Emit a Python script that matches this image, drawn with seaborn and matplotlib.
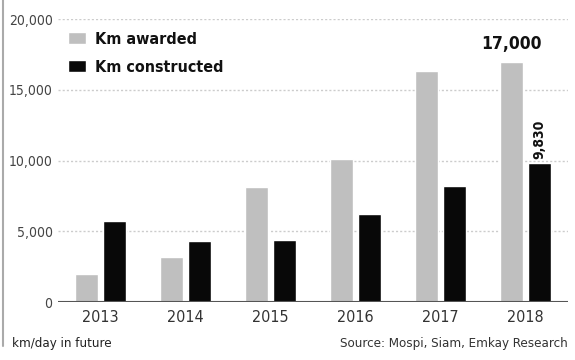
import pandas as pd
import numpy as np
import matplotlib
matplotlib.use("Agg")
import matplotlib.pyplot as plt
import seaborn as sns

# data
years = ['2013', '2014', '2015', '2016', '2017', '2018']
km_awarded = [2000, 3200, 8100, 10100, 16300, 17000]
km_constructed = [5700, 4300, 4400, 6200, 8200, 9830]
series_names = ['Km awarded', 'Km constructed']
y_ticks = [0, 5000, 10000, 15000, 20000]

df = pd.DataFrame({
    'year': years * 2,
    'km': km_awarded + km_constructed,
    'series': [series_names[0]] * len(years) + [series_names[1]] * len(years),
})

sns.set_theme(style='white')
plt.rcParams['font.family'] = ['DejaVu Sans']
plt.rcParams['font.stretch'] = 'condensed'

fig = plt.figure(figsize=(5.75, 3.6), dpi=100)
ax = fig.add_axes([0.101, 0.161, 0.887, 0.786])

palette = {'Km awarded': '#bfbfbf', 'Km constructed': '#080808'}
sns.barplot(data=df, x='year', y='km', hue='series', palette=palette,
            width=0.66, gap=0.2, saturation=1, ax=ax, legend=True)

ax.set_xlim(-0.5, 5.5)
ax.set_ylim(0, 20000)
ax.set_yticks(y_ticks)
ax.set_yticklabels([f'{v:,}' for v in y_ticks])
for v in y_ticks[1:]:
    ax.axhline(v, color='#cccccc', lw=1, ls=(0, (1.5, 1.5)), zorder=0)
ax.axhline(0, color='#555555', lw=1.5, zorder=3)
sns.despine(ax=ax, left=True, bottom=True)

ax.set_xlabel('')
ax.set_ylabel('')
ax.tick_params(axis='y', length=0, pad=4, labelsize=10, labelcolor='#444444')
ax.tick_params(axis='x', length=0, pad=6, labelsize=11.5, labelcolor='#333333')

leg = ax.legend(loc='upper left', bbox_to_anchor=(-0.005, 1.0), frameon=False,
                fontsize=11.5, handlelength=1.1, handleheight=0.8,
                labelspacing=0.8, borderaxespad=0.4, handletextpad=0.6)
for t in leg.get_texts():
    t.set_fontweight('bold')
    t.set_color('#111111')

# value labels on the 2018 bars
bars_aw = ax.containers[0]
bars_co = ax.containers[1]
b = bars_aw[-1]
ax.text(b.get_x() + b.get_width() / 2, km_awarded[-1] + 600, f'{km_awarded[-1]:,}',
        ha='center', va='bottom', fontsize=12.5, fontweight='bold', color='#111111')
b = bars_co[-1]
ax.text(b.get_x() + b.get_width() / 2, km_constructed[-1] + 250, f'{km_constructed[-1]:,}',
        ha='center', va='bottom', rotation=90, fontsize=10, fontweight='bold', color='#111111')

fig.text(0.02, 0.045, 'km/day in future', fontsize=9.5, color='#222222', va='center')
fig.text(0.988, 0.045, 'Source: Mospi, Siam, Emkay Research', fontsize=9.5,
         color='#333333', ha='right', va='center')

# grey edge of the clipping on the left
fig.add_artist(plt.Line2D([0.005, 0.005], [0.04, 1.0], color='#aaaaaa', lw=1.5))

fig.savefig('out.png', dpi=100)
